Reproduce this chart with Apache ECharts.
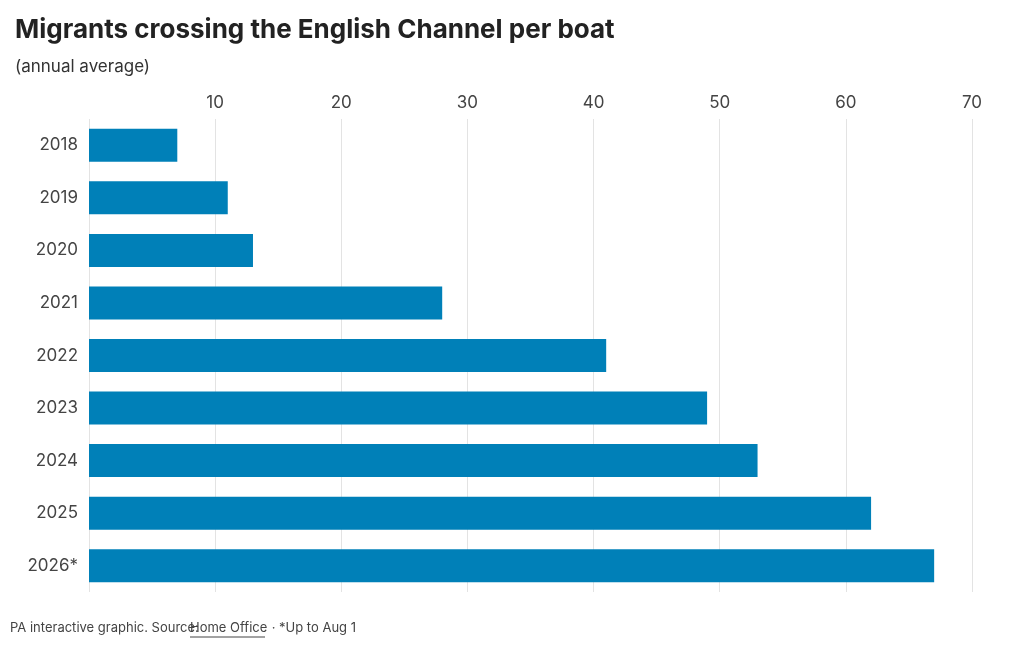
<!DOCTYPE html>
<html><head><meta charset="utf-8">
<script src="https://cdn.jsdelivr.net/npm/echarts@6/dist/echarts.min.js"></script>
<style>html,body{margin:0;padding:0;background:#fff}#c{width:1020px;height:650px}</style>
</head><body><div id="c"></div>
<script>
const years = ["2018","2019","2020","2021","2022","2023","2024","2025","2026*"];
const values = [7, 11, 13, 28, 41, 49, 53, 62, 67];
const xTicks = [10, 20, 30, 40, 50, 60, 70];
const F = "Inter, Roboto, sans-serif";
const chart = echarts.init(document.getElementById('c'));
chart.setOption({
  animation: false,
  grid: { left: 89, right: 48, top: 119, bottom: 58 },
  title: [
    { text: "Migrants crossing the English Channel per boat", left: 10, top: 12,
      textStyle: { fontFamily: F, fontSize: 26, fontWeight: 'bold', color: '#222', letterSpacing: -0.5 } },
    { text: "(annual average)", left: 10, top: 53,
      textStyle: { fontFamily: F, fontSize: 17, fontWeight: 'normal', color: '#333' } }
  ],
  xAxis: {
    type: 'value', position: 'top', min: 0, max: 70, interval: 10,
    axisLine: { show: false }, axisTick: { show: false },
    splitLine: { lineStyle: { color: '#e3e3e3' } },
    axisLabel: { fontFamily: F, fontSize: 17, color: '#444', margin: 8,
      formatter: v => xTicks.includes(v) ? String(v) : '' }
  },
  yAxis: {
    type: 'category', data: years, inverse: true,
    axisLine: { show: false }, axisTick: { show: false },
    axisLabel: { fontFamily: F, fontSize: 17, color: '#444', margin: 11 }
  },
  series: [{ type: 'bar', data: values, barWidth: 33, itemStyle: { color: '#0080b8' } }],
  graphic: [
    { type: 'text', left: 10, top: 622, style: { text: "PA interactive graphic. Source: ", font: "13px " + F, fill: '#444' } },
    { type: 'text', left: 190, top: 622, style: { text: "Home Office", font: "13px " + F, fill: '#444' } },
    { type: 'line', shape: { x1: 190, y1: 637, x2: 265, y2: 637 }, style: { stroke: '#444', lineWidth: 1 } },
    { type: 'text', left: 268, top: 622, style: { text: " · *Up to Aug 1", font: "13px " + F, fill: '#444' } }
  ]
});
</script></body></html>
